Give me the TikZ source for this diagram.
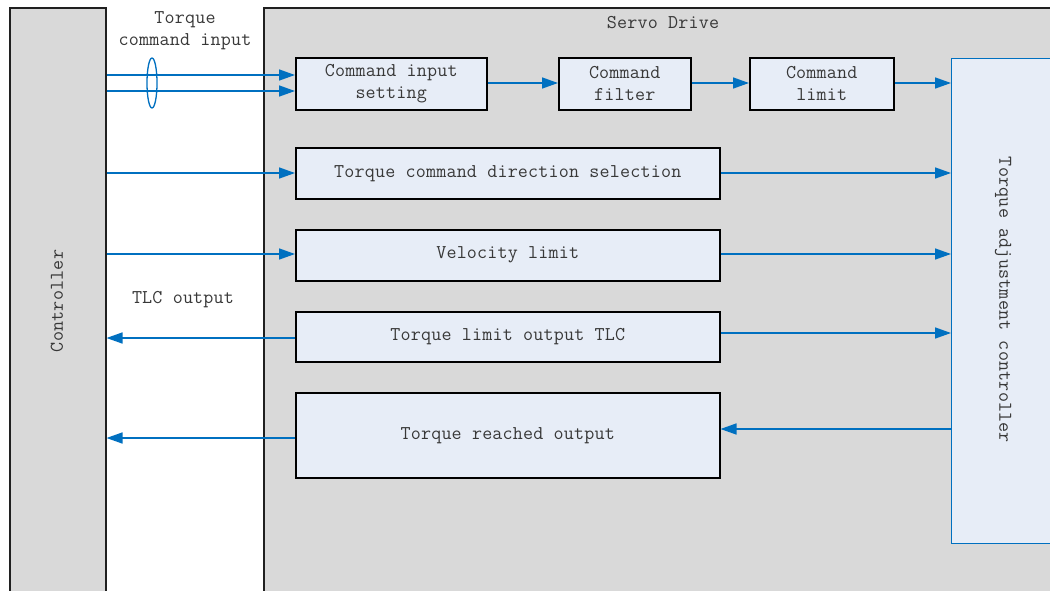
\documentclass[tikz,border=0pt]{standalone}
\usepackage{fontspec}
\newfontfamily\monof{Latin Modern Mono}[LetterSpace=1]
\usetikzlibrary{arrows.meta,calc}
\definecolor{gfill}{HTML}{D9D9D9}
\definecolor{bfill}{HTML}{E7EDF7}
\definecolor{bline}{HTML}{0070C0}
\definecolor{dline}{HTML}{202020}
\definecolor{tcol}{HTML}{383838}
\tikzset{
  txt/.style={font=\monof\fontsize{19.5}{22}\selectfont, text=tcol, align=center, inner sep=0pt},
  gbox/.style={draw=dline, line width=1.5pt, fill=gfill, anchor=north west, inner sep=0pt},
  stepbox/.style={draw=black, line width=1.5pt, fill=bfill, anchor=north west, inner sep=0pt,
                  font=\monof\fontsize{19.5}{22}\selectfont, text=tcol, align=center},
  ctlbox/.style={draw=bline, line width=1.4pt, fill=bfill, anchor=north west, inner sep=0pt},
  arr/.style={draw=bline, line width=1.5pt, -{Triangle[length=16pt,width=11pt]}},
}
\begin{document}
\begin{tikzpicture}[x=1pt,y=-1pt]
\clip (0,0) rectangle (1050,590);
\fill[white] (0,0) rectangle (1050,590);
% big frames
\node[gbox, minimum width=96pt, minimum height=640pt] (ctrl) at (9,7) {};
\node[gbox, minimum width=850pt, minimum height=640pt] (servo) at (263,7) {};
\node[txt, rotate=90] (ctrltxt) at (57,301) {Controller};
\node[txt] (servotxt) at (663,23) {Servo Drive};
% labels
\node[txt] (tcin) at (185,31) {Torque\\command input};
\node[txt] (tlcout) at (183,300) {TLC output};
% blocks
\node[stepbox, minimum width=191pt, minimum height=52pt] (cis) at (295,57) {Command input\\setting};
\node[stepbox, minimum width=132pt, minimum height=52pt] (cf) at (558,57) {Command\\filter};
\node[stepbox, minimum width=144pt, minimum height=52pt] (cl) at (749,57) {Command\\limit};
\node[stepbox, minimum width=424pt, minimum height=51pt] (tcds) at (295,147) {Torque command direction selection};
\node[stepbox, minimum width=424pt, minimum height=51pt] (vl) at (295,229) {Velocity limit};
\node[stepbox, minimum width=424pt, minimum height=50pt] (tlo) at (295,311) {Torque limit output TLC};
\node[stepbox, minimum width=424pt, minimum height=85pt] (tro) at (295,392) {Torque reached output};
\node[ctlbox, minimum width=150pt, minimum height=485pt] (tac) at (951,58) {};
\node[txt, rotate=-90] (tactxt) at (1003,300) {Torque adjustment controller};
% command input lines
\draw[arr] (ctrl.east |- 0,75) -- (cis.west |- 0,75);
\draw[arr] (ctrl.east |- 0,91) -- (cis.west |- 0,91);
\draw[draw=bline, line width=1.3pt] (152,83) ellipse (5pt and 25pt);
\coordinate (ell) at (152,83);
% chain
\draw[arr] (cis.east |- 0,83) -- (cf.west |- 0,83);
\draw[arr] (cf.east |- 0,83) -- (cl.west |- 0,83);
\draw[arr] (cl.east |- 0,83) -- (tac.west |- 0,83);
% controller to blocks
\draw[arr] (ctrl.east |- 0,173) -- (tcds.west |- 0,173);
\draw[arr] (ctrl.east |- 0,254) -- (vl.west |- 0,254);
\draw[arr] (tlo.west |- 0,338) -- (ctrl.east |- 0,338);
\draw[arr] (tro.west |- 0,438) -- (ctrl.east |- 0,438);
% blocks to controller
\draw[arr] (tcds.east |- 0,173) -- (tac.west |- 0,173);
\draw[arr] (vl.east |- 0,254) -- (tac.west |- 0,254);
\draw[arr] (tlo.east |- 0,333) -- (tac.west |- 0,333);
\draw[arr] (tac.west |- 0,429) -- (tro.east |- 0,429);
\end{tikzpicture}
\end{document}
